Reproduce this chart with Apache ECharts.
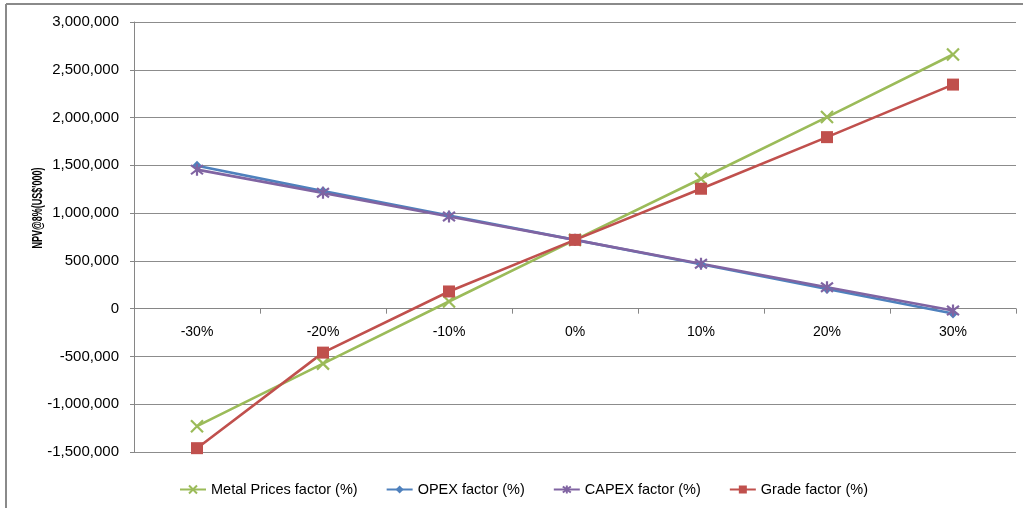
<!DOCTYPE html>
<html>
<head>
<meta charset="utf-8">
<script src="https://cdn.jsdelivr.net/npm/echarts@6/dist/echarts.min.js"></script>
<style>
  html, body { margin: 0; padding: 0; background: #fff; }
  #chart { width: 1023px; height: 508px; }
</style>
</head>
<body>
<div id="chart"></div>
<script>
// Sensitivity of NPV@8% to +/- changes in each factor
const categories = ['-30%', '-20%', '-10%', '0%', '10%', '20%', '30%'];
const metalPrices = [-1230000, -575000, 75000, 720000, 1360000, 2005000, 2660000];
const opex = [1495000, 1230000, 975000, 720000, 465000, 205000, -50000];
const capex = [1455000, 1212000, 965000, 720000, 470000, 225000, -20000];
const grade = [-1460000, -460000, 180000, 720000, 1255000, 1795000, 2345000];
const seriesNames = ['Metal Prices factor (%)', 'OPEX factor (%)', 'CAPEX factor (%)', 'Grade factor (%)'];
const yTitle = "NPV@8%(US$'000)";

const Y_MIN = -1500000, Y_MAX = 3000000, Y_STEP = 500000;
const GRID_TOP = 22, GRID_BOTTOM = 56, CHART_H = 508;

const FONT = "'Liberation Sans', Arial, sans-serif";
const crossPath = 'path://M0,0L10,10M10,0L0,10';
const starPath = 'path://M0,0L10,10M10,0L0,10M5,-1.5L5,11.5';

// distance from the bottom of the plot to the zero line, so the category axis sits at y = 0
const plotH = CHART_H - GRID_TOP - GRID_BOTTOM;
const zeroOffset = -plotH * (0 - Y_MIN) / (Y_MAX - Y_MIN);

function lineSeries(name, data, color, symbol, size, stroked) {
  return {
    name: name,
    type: 'line',
    data: data,
    symbol: symbol,
    symbolSize: size,
    showAllSymbol: true,
    lineStyle: { color: color, width: 2.6 },
    itemStyle: stroked
      ? { color: 'rgba(0,0,0,0)', borderColor: color, borderWidth: 2.2 }
      : { color: color, borderColor: color, borderWidth: 0 },
    emphasis: { disabled: true }
  };
}

const chart = echarts.init(document.getElementById('chart'), null, { renderer: 'canvas' });
chart.setOption({
  animation: false,
  backgroundColor: '#ffffff',
  grid: { left: 134, right: 7, top: GRID_TOP, bottom: GRID_BOTTOM, containLabel: false },
  legend: {
    left: 174,
    top: 477,
    itemWidth: 26,
    itemHeight: 10,
    itemGap: 28,
    textStyle: { fontFamily: FONT, fontSize: 14.5, color: '#000' },
    data: seriesNames
  },
  xAxis: {
    type: 'category',
    data: categories,
    boundaryGap: true,
    offset: zeroOffset,
    axisLine: { onZero: false, lineStyle: { color: '#868686', width: 1 } },
    axisTick: { show: true, length: 5, inside: false, lineStyle: { color: '#868686' } },
    axisLabel: { fontFamily: FONT, fontSize: 14, color: '#000', margin: 16 },
    splitLine: { show: false }
  },
  yAxis: {
    type: 'value',
    min: Y_MIN,
    max: Y_MAX,
    interval: Y_STEP,
    axisLine: { show: true, lineStyle: { color: '#868686', width: 1 } },
    axisTick: { show: true, length: 4, lineStyle: { color: '#868686' } },
    axisLabel: {
      fontFamily: FONT, fontSize: 15, color: '#000', margin: 15,
      formatter: v => v.toLocaleString('en-US')
    },
    splitLine: { show: true, lineStyle: { color: '#8c8c8c', width: 1 } }
  },
  graphic: [
    { type: 'line', shape: { x1: 6, y1: 4, x2: 1023, y2: 4 }, style: { stroke: '#8a8a8a', lineWidth: 2 }, silent: true },
    { type: 'line', shape: { x1: 6, y1: 4, x2: 6, y2: 508 }, style: { stroke: '#8a8a8a', lineWidth: 2 }, silent: true },
    {
      type: 'text', x: 38, y: 208, rotation: Math.PI / 2, scaleX: 0.6,
      style: { text: yTitle, font: "bold 15px 'Liberation Sans', Arial, sans-serif", fill: '#000', align: 'center', verticalAlign: 'middle' },
      silent: true
    }
  ],
  series: [
    lineSeries(seriesNames[0], metalPrices, '#9BBB59', crossPath, 12, true),
    lineSeries(seriesNames[1], opex, '#4F81BD', 'diamond', 10, false),
    lineSeries(seriesNames[2], capex, '#8064A2', starPath, 12, true),
    lineSeries(seriesNames[3], grade, '#C0504D', 'rect', 12, false)
  ]
});
</script>
</body>
</html>
